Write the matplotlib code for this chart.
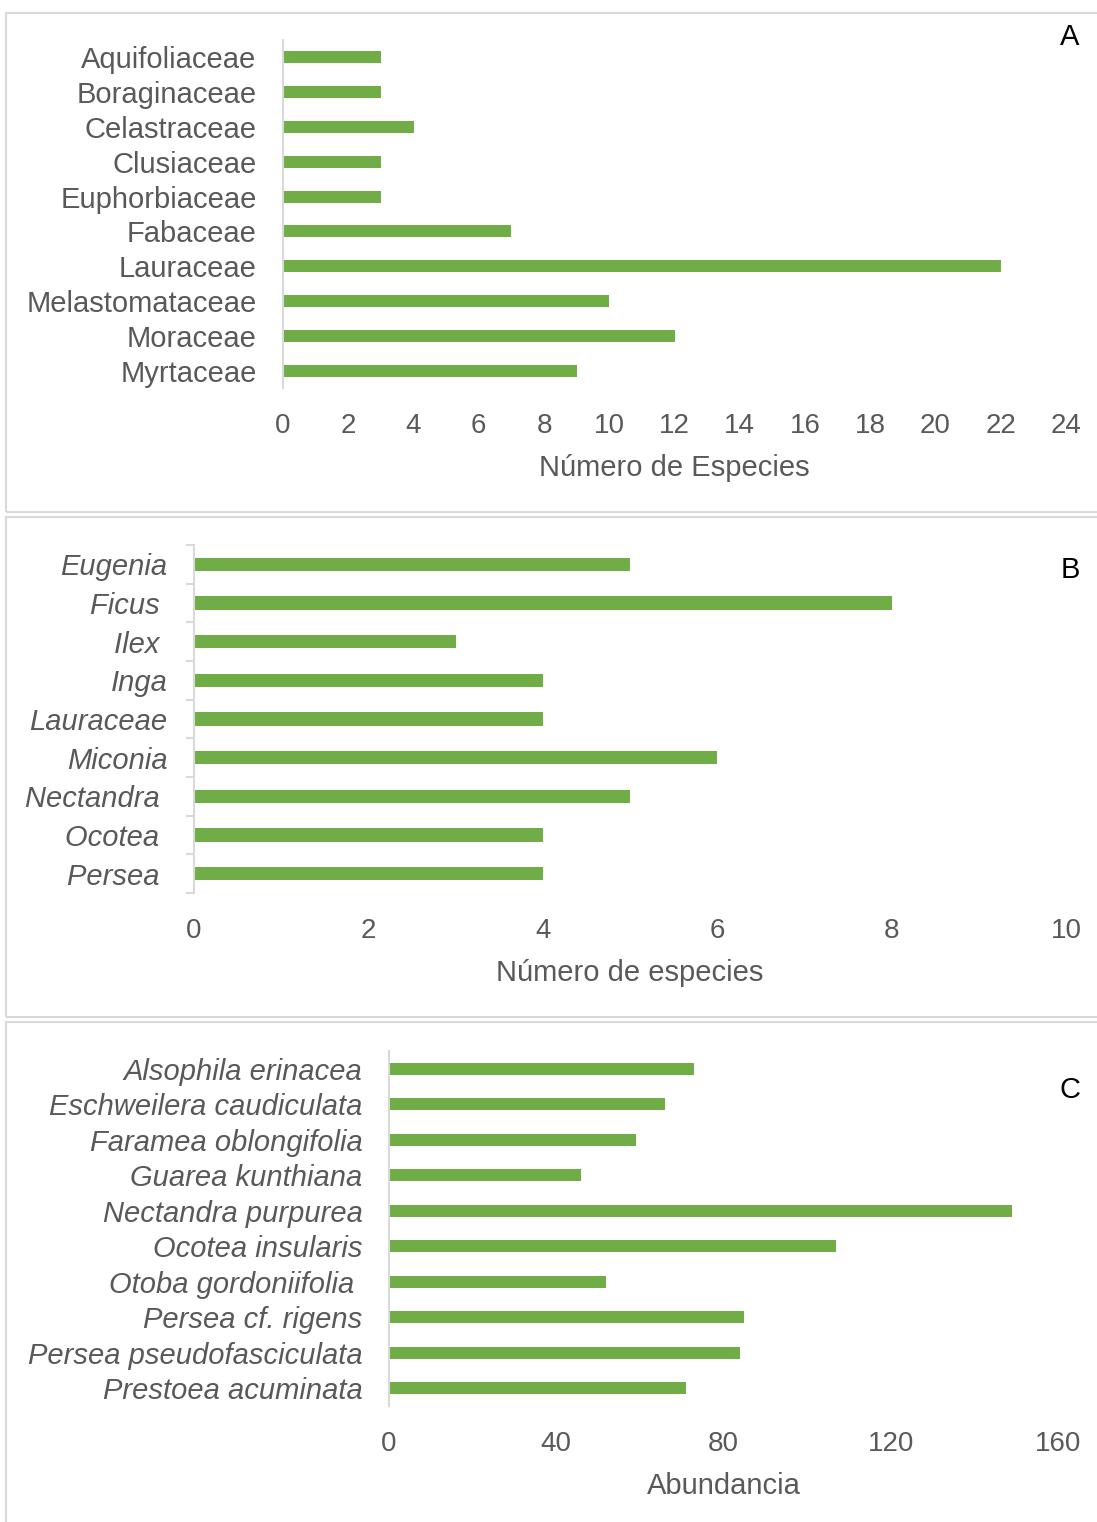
import numpy as np
import matplotlib.pyplot as plt
from matplotlib.patches import Rectangle

plt.rcParams['font.family'] = ['Liberation Sans', 'DejaVu Sans']

# Datos panel A (familias)
familias = ['Aquifoliaceae', 'Boraginaceae', 'Celastraceae', 'Clusiaceae', 'Euphorbiaceae',
            'Fabaceae', 'Lauraceae', 'Melastomataceae', 'Moraceae', 'Myrtaceae']
especies_familia = [3, 3, 4, 3, 3, 7, 22, 10, 12, 9]

# Datos panel B (géneros)
generos = ['Eugenia', 'Ficus ', 'Ilex ', 'Inga', 'Lauraceae', 'Miconia', 'Nectandra ', 'Ocotea ', 'Persea ']
especies_genero = [5, 8, 3, 4, 4, 6, 5, 4, 4]

# Datos panel C (especies)
especies = ['Alsophila erinacea', 'Eschweilera caudiculata', 'Faramea oblongifolia', 'Guarea kunthiana',
            'Nectandra purpurea', 'Ocotea insularis', 'Otoba gordoniifolia ', 'Persea cf. rigens',
            'Persea pseudofasciculata', 'Prestoea acuminata']
abundancia = [73, 66, 59, 46, 149, 107, 52, 85, 84, 71]

W, H = 1097, 1522
fig = plt.figure(figsize=(W / 100, H / 100), dpi=100)

verde = '#70AD47'
gris = '#595959'
borde = '#D9D9D9'
fs = 21      # etiquetas de categorías y títulos de eje
fs_t = 20    # números del eje x


def px_axes(x0, y0, x1, y1):
    return fig.add_axes([x0 / W, 1 - y1 / H, (x1 - x0) / W, (y1 - y0) / H])


# Marcos de cada panel
for top, bot in [(13, 512), (517, 1017), (1022, 1530)]:
    fig.patches.append(Rectangle((6 / W, 1 - bot / H), (1100 - 6) / W, (bot - top) / H,
                                 transform=fig.transFigure, fill=False,
                                 edgecolor=borde, linewidth=1.5))


def panel(ax, cats, vals, xmax, paso, xlabel, italic, letra, ly, ticks_y=False):
    y = np.arange(len(cats))
    ax.barh(y, vals, height=0.35, color=verde, zorder=2)
    ax.set_ylim(len(cats) - 0.5, -0.5)
    ax.set_xlim(0, xmax)
    ax.set_xticks(np.arange(0, xmax + 1, paso))
    ax.set_yticks(y)
    ax.set_yticklabels(cats, fontsize=fs, color=gris, style='italic' if italic else 'normal')
    for s in ['top', 'right', 'bottom']:
        ax.spines[s].set_visible(False)
    ax.spines['left'].set_color(borde)
    ax.spines['left'].set_linewidth(1.5)
    ax.tick_params(axis='x', length=0, labelsize=fs_t, labelcolor=gris, pad=18)
    ax.tick_params(axis='y', length=0, pad=19)
    if ticks_y:
        ax.set_yticks(np.arange(-0.5, len(cats), 1), minor=True)
        ax.tick_params(axis='y', which='minor', length=6, width=1.5, color=borde)
    ax.set_xlabel(xlabel, fontsize=fs, color=gris, labelpad=11)
    fig.text(1070 / W, 1 - ly / H, letra, fontsize=fs, color='black', ha='center', va='center')


ax1 = px_axes(283, 40, 1066, 388)
panel(ax1, familias, especies_familia, 24, 2, 'Número de Especies', False, 'A', 37)

ax2 = px_axes(194, 545, 1066, 893)
panel(ax2, generos, especies_genero, 10, 2, 'Número de especies', True, 'B', 570, ticks_y=True)

ax3 = px_axes(389, 1051, 1058, 1406)
panel(ax3, especies, abundancia, 160, 40, 'Abundancia', True, 'C', 1090)

fig.savefig('out.png', dpi=100)
